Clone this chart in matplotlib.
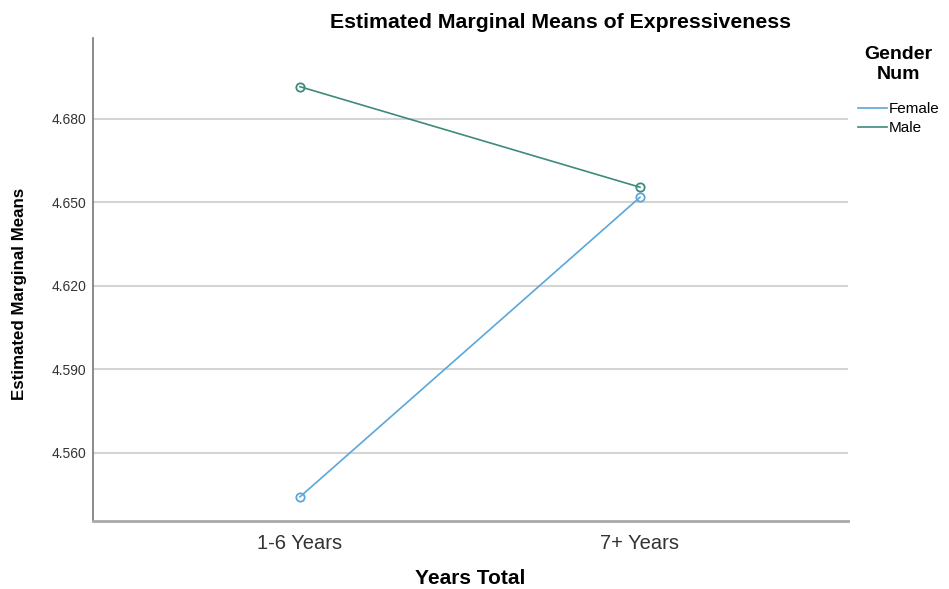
import matplotlib
matplotlib.use('Agg')
from matplotlib import pyplot as plt
from matplotlib.lines import Line2D

# estimated marginal means per gender group
years = ['1-6 Years', '7+ Years']
female_means = [4.5442, 4.6518]
male_means = [4.6915, 4.6554]
y_ticks = [4.560, 4.590, 4.620, 4.650, 4.680]

female_color = '#5aa7d9'
male_color = '#3f8a7d'

plt.rcParams['font.family'] = ['Liberation Sans', 'DejaVu Sans']

fig = plt.figure(figsize=(9.49, 5.89), dpi=100)
ax = fig.add_axes([0.098, 0.1154, 0.7956, 0.8201])

x = list(range(len(years)))
ax.plot(x, female_means, color=female_color, lw=1.2, marker='o', ms=6,
        mfc='none', mec=female_color, mew=1.3, zorder=3)
ax.plot(x, male_means, color=male_color, lw=1.2, marker='o', ms=6,
        mfc='none', mec=male_color, mew=1.3, zorder=3)

ax.set_xlim(-0.609, 1.612)
ax.set_ylim(4.5355, 4.709)
ax.set_xticks(x)
ax.set_xticklabels(years, fontsize=14.5, color='#333333')
ax.set_yticks(y_ticks)
ax.set_yticklabels(['%.3f' % v for v in y_ticks], fontsize=10, color='#333333')
ax.tick_params(length=0, pad=9)
ax.tick_params(axis='y', pad=5)

for v in y_ticks:
    ax.axhline(v, color='#d4d4d4', lw=1.5, zorder=1)

for s in ['top', 'right']:
    ax.spines[s].set_visible(False)
ax.spines['left'].set_color('#777777')
ax.spines['left'].set_linewidth(1.2)
ax.spines['bottom'].set_color('#a8a8a8')
ax.spines['bottom'].set_linewidth(2)

# axis titles placed on the figure
fig.text(470 / 949, 1 - 578 / 589, 'Years Total', ha='center', va='center',
         fontsize=15, fontweight='bold')
fig.text(20 / 949, 1 - 294 / 589, 'Estimated Marginal Means', ha='center',
         va='center', rotation=90, fontsize=12.2, fontweight='bold')

fig.text(560 / 949, 1 - 22 / 589, 'Estimated Marginal Means of Expressiveness',
         ha='center', va='center', fontsize=15.3, fontweight='bold')

handles = [Line2D([0], [0], color=female_color, lw=1.2),
           Line2D([0], [0], color=male_color, lw=1.2)]
leg = fig.legend(handles, ['Female', 'Male'], title='Gender\nNum',
                 loc='upper left', bbox_to_anchor=(0.893, 0.94),
                 frameon=False, fontsize=11, handlelength=1.9,
                 handletextpad=0.1, labelspacing=0.35, borderpad=0.2)
leg.get_title().set_fontweight('bold')
leg.get_title().set_fontsize(14)
leg.get_title().set_multialignment('center')
leg._legend_box.sep = 14

fig.savefig('out.png', dpi=100)
